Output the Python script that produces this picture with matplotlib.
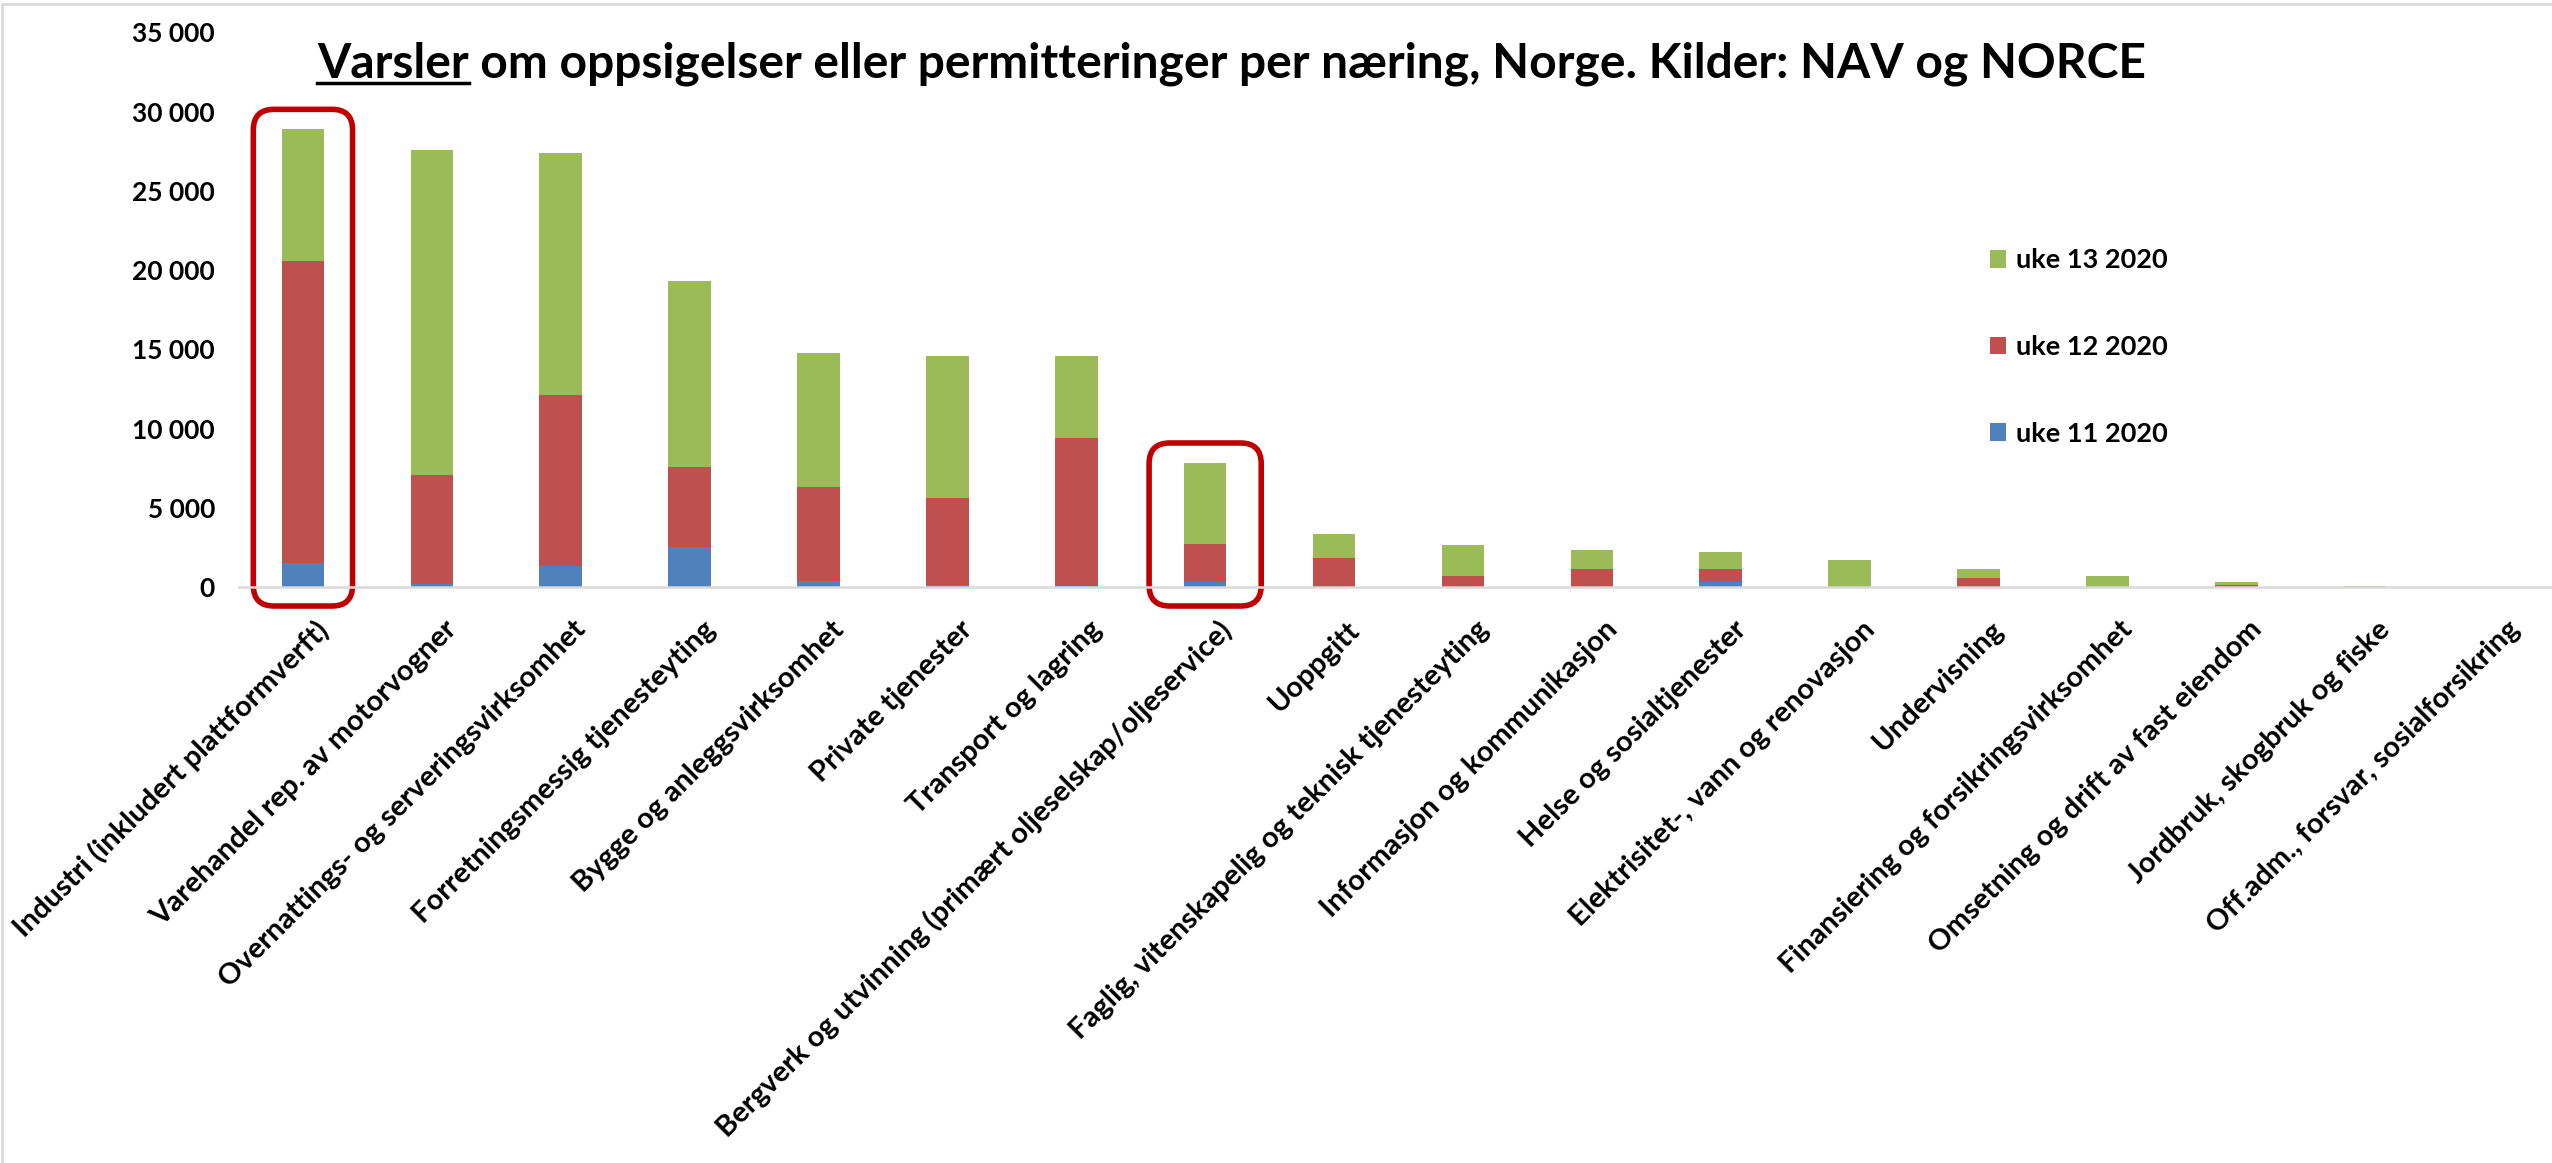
import matplotlib
matplotlib.use("Agg")
import matplotlib.pyplot as plt
from matplotlib.patches import FancyBboxPatch
from matplotlib.lines import Line2D
from matplotlib.ticker import FuncFormatter, MultipleLocator
from matplotlib.transforms import ScaledTranslation
import numpy as np

# --- data ---
categories = [
    "Industri (inkludert plattformverft)",
    "Varehandel rep. av motorvogner",
    "Overnattings- og serveringsvirksomhet",
    "Forretningsmessig tjenesteyting",
    "Bygge og anleggsvirksomhet",
    "Private tjenester",
    "Transport og lagring",
    "Bergverk og utvinning (primært oljeselskap/oljeservice)",
    "Uoppgitt",
    "Faglig, vitenskapelig og teknisk tjenesteyting",
    "Informasjon og kommunikasjon",
    "Helse og sosialtjenester",
    "Elektrisitet-, vann og renovasjon",
    "Undervisning",
    "Finansiering og forsikringsvirksomhet",
    "Omsetning og drift av fast eiendom",
    "Jordbruk, skogbruk og fiske",
    "Off.adm., forsvar, sosialforsikring",
]
uke11 = [1500, 200, 1300, 2550, 400, 150, 60, 320, 0, 0, 0, 340, 0, 0, 0, 0, 0, 0]
uke12 = [19100, 6900, 10800, 5050, 5900, 5450, 9330, 2370, 1830, 710, 1130, 790, 0, 550, 0, 150, 0, 0]
uke13 = [8300, 20500, 15300, 11700, 8450, 8950, 5170, 5150, 1500, 1920, 1180, 1100, 1700, 580, 670, 140, 80, 20]
series_labels = ["uke 11 2020", "uke 12 2020", "uke 13 2020"]
highlighted = [0, 7]  # bars with red frames
frame_half = [0.385, 0.435]

title_first = "Varsler"
title_rest = " om oppsigelser eller permitteringer per næring, Norge. Kilder: NAV og NORCE"

# --- style ---
BLUE, RED, GREEN = "#4f81bd", "#c0504d", "#9bbb59"
FRAME = "#c00000"
GRID_GREY = "#d9d9d9"
TXT_FONT = ["Lato", "DejaVu Sans"]

W, H, DPI = 2552, 1163, 100
fig = plt.figure(figsize=(W / DPI, H / DPI), dpi=DPI)
ax = fig.add_axes([238.5 / W, 1 - 587 / H, 2320 / W, (587 - 32.5) / H])

x = np.arange(len(categories))
a = np.array(uke11)
b = np.array(uke12)
c = np.array(uke13)
bw = 0.33
b11 = ax.bar(x, a, bw, color=BLUE, label=series_labels[0])
b12 = ax.bar(x, b, bw, bottom=a, color=RED, label=series_labels[1])
b13 = ax.bar(x, c, bw, bottom=a + b, color=GREEN, label=series_labels[2])

ax.set_xlim(-0.5, len(categories) - 0.5)
ax.set_ylim(0, 35000)
ax.yaxis.set_major_locator(MultipleLocator(5000))
ax.yaxis.set_major_formatter(FuncFormatter(lambda v, p: f"{int(v):,}".replace(",", " ")))
for s in ["top", "right", "left"]:
    ax.spines[s].set_visible(False)
ax.spines["bottom"].set_color(GRID_GREY)
ax.spines["bottom"].set_linewidth(1.8)
ax.tick_params(length=0)
ax.tick_params(axis="y", pad=17)
for lab in ax.get_yticklabels():
    lab.set_fontfamily(TXT_FONT)
    lab.set_fontweight("bold")
    lab.set_fontsize(19)

# rotated category labels, anchored at their top-right end
ax.set_xticks(x, categories, rotation=45, ha="right", va="top", rotation_mode="anchor",
              fontsize=21, fontweight="bold", family=TXT_FONT)
ax.tick_params(axis="x", pad=21)
shift = ScaledTranslation(12 / DPI, 0, fig.dpi_scale_trans)
for lab in ax.get_xticklabels():
    lab.set_transform(lab.get_transform() + shift)

# red rounded frames around the highlighted bars
px_x = ax.bbox.width / (len(categories))
px_y = ax.bbox.height / 35000
totals = a + b + c
for i, half in zip(highlighted, frame_half):
    y0 = -1200
    y1 = totals[i] + 1250
    box = FancyBboxPatch((i - half, y0), 2 * half, y1 - y0,
                         boxstyle="round,pad=0,rounding_size=0.16",
                         mutation_aspect=px_x / px_y,
                         transform=ax.transData, fill=False,
                         edgecolor=FRAME, linewidth=4, clip_on=False)
    ax.add_patch(box)

# legend, reversed order like the reference
ax.legend(handles=[b13, b12, b11], loc="upper left",
          bbox_to_anchor=(1990 / W, 1 - 248.5 / H), bbox_transform=fig.transFigure,
          frameon=False, prop=dict(family=TXT_FONT, weight="bold", size=19.5),
          handlelength=0.6, handleheight=0.6, handletextpad=0.35,
          labelspacing=2.31, borderpad=0, borderaxespad=0)

# title with underlined first word
tx, ty = 317 / W, 1 - 78 / H
tprops = dict(fontsize=34.6, fontweight="bold", family=TXT_FONT, va="baseline", ha="left")
fig.text(tx, ty, title_first + title_rest, **tprops)
r = fig.canvas.get_renderer()
tmp = fig.text(tx, ty, title_first, **tprops)
bb = tmp.get_window_extent(r)
tmp.remove()
uy = H * ty - 5
fig.add_artist(Line2D([bb.x0, bb.x1], [uy, uy], transform=None, color="black", linewidth=2.5))

# light grey chart border
fig.add_artist(Line2D([2 / W, 2 / W, 1], [0, 1 - 4 / H, 1 - 4 / H], transform=fig.transFigure,
                      color=GRID_GREY, linewidth=2))

fig.savefig("out.png", dpi=DPI)
